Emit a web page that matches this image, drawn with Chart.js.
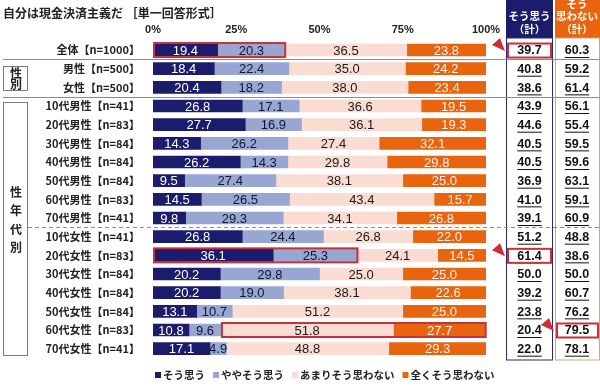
<!DOCTYPE html>
<html><head><meta charset="utf-8">
<script src="https://cdn.jsdelivr.net/npm/chart.js@4.4.1/dist/chart.umd.min.js"></script>
<style>html,body{margin:0;padding:0;background:#fff;overflow:hidden}#wrap{width:600px;height:391px;position:relative}</style>
</head><body><div id="wrap"><canvas id="c" width="600" height="391"></canvas></div>
<script>
const chartTitle = '自分は現金決済主義だ ［単一回答形式］';
const categories = ['全体【n=1000】','男性【n=500】','女性【n=500】',
  '10代男性【n=41】','20代男性【n=83】','30代男性【n=84】','40代男性【n=84】','50代男性【n=84】','60代男性【n=83】','70代男性【n=41】',
  '10代女性【n=41】','20代女性【n=83】','30代女性【n=84】','40代女性【n=84】','50代女性【n=84】','60代女性【n=83】','70代女性【n=41】'];
const seriesNames = ['そう思う','ややそう思う','あまりそう思わない','全くそう思わない'];
const agree     = [19.4,18.4,20.4,26.8,27.7,14.3,26.2, 9.5,14.5, 9.8,26.8,36.1,20.2,20.2,13.1,10.8,17.1];
const somewhat  = [20.3,22.4,18.2,17.1,16.9,26.2,14.3,27.4,26.5,29.3,24.4,25.3,29.8,19.0,10.7, 9.6, 4.9];
const notMuch   = [36.5,35.0,38.0,36.6,36.1,27.4,29.8,38.1,43.4,34.1,26.8,24.1,25.0,38.1,51.2,51.8,48.8];
const notAtAll  = [23.8,24.2,23.4,19.5,19.3,32.1,29.8,25.0,15.7,26.8,22.0,14.5,25.0,22.6,25.0,27.7,29.3];
const agreeTotal    = [39.7,40.8,38.6,43.9,44.6,40.5,40.5,36.9,41.0,39.1,51.2,61.4,50.0,39.2,23.8,20.4,22.0];
const disagreeTotal = [60.3,59.2,61.4,56.1,55.4,59.5,59.6,63.1,59.1,60.9,48.8,38.6,50.0,60.7,76.2,79.5,78.1];
const xTicks = [0,25,50,75,100];
const totalHeaders = [['そう思う','（計）'],['そう','思わない','（計）']];
const groupLabels = [['性','別'],['性','年','代','別']];
// highlighted cells: category, segments (bar) / column (totals)
const barHighlights = [{cat:'全体【n=1000】',segs:[0,1]},{cat:'20代女性【n=83】',segs:[0,1]},{cat:'60代女性【n=83】',segs:[2,3]}];
const colHighlights = [{cat:'全体【n=1000】',col:0},{cat:'20代女性【n=83】',col:0},{cat:'60代女性【n=83】',col:1}];

const COLORS = ['#1c1c6c','#97a7d1','#fadcd3','#e8640f'];
const LABEL_COLORS = ['#ffffff','#14143a','#1a1a1a','#fff4ee'];
const RED = '#cc2f37';
const JP = '"Noto Sans CJK JP", "Noto Sans", sans-serif';
const LAT = '"Liberation Sans", Arial, sans-serif';

const series = [agree, somewhat, notMuch, notAtAll];

const deco = {
  id:'deco',
  beforeDraw(chart){
    const {ctx} = chart;
    ctx.save();
    ctx.fillStyle='#fff'; ctx.fillRect(0,0,chart.width,chart.height);
    ctx.restore();
  },
  afterDatasetsDraw(chart){
    const {ctx, chartArea, scales:{x,y}} = chart;
    ctx.save();
    // data labels
    chart.data.datasets.forEach((ds,di)=>{
      const meta = chart.getDatasetMeta(di);
      meta.data.forEach((bar,i)=>{
        const v = ds.data[i];
        ctx.fillStyle = LABEL_COLORS[di];
        ctx.font = '13px '+LAT;
        ctx.textAlign='center'; ctx.textBaseline='middle';
        ctx.fillText(v.toFixed(1),(bar.x+bar.base)/2,bar.y+1);
      });
    });
    // bar highlights
    ctx.strokeStyle=RED; ctx.lineWidth=2;
    barHighlights.forEach(h=>{
      const i = categories.indexOf(h.cat);
      const b0 = chart.getDatasetMeta(h.segs[0]).data[i];
      const b1 = chart.getDatasetMeta(h.segs[h.segs.length-1]).data[i];
      const x0 = Math.min(b0.base,b0.x), x1 = Math.max(b1.base,b1.x);
      const hh = b0.height/2+1;
      ctx.strokeRect(x0+1,b0.y-hh,x1-x0-1,hh*2);
    });
    // title
    ctx.fillStyle='#222'; ctx.textAlign='left'; ctx.textBaseline='middle';
    ctx.font='bold 12px '+JP;
    ctx.fillText(chartTitle,3,13);
    // total columns
    const cols = [{l:506,r:553,cx:529.5,fill:'#1c1c6c',border:'#2a2a72'},{l:555,r:600,cx:577,fill:'#e8640f',border:'#d9a27e'}];
    const colBottom = chartArea.bottom+2;
    cols.forEach((c,ci)=>{
      ctx.fillStyle=c.fill; ctx.fillRect(c.l,0,c.r-c.l,38);
      ctx.strokeStyle=c.border; ctx.lineWidth=1;
      ctx.strokeRect(c.l+0.5,38,c.r-c.l-1,colBottom-38);
      ctx.fillStyle='#fff'; ctx.textAlign='center'; ctx.textBaseline='middle';
      ctx.font='bold 10.5px '+JP;
      const lines = totalHeaders[ci];
      const ys = lines.length===2?[16,29]:[4.5,16.5,29.5];
      lines.forEach((t,k)=>ctx.fillText(t,c.cx,ys[k]));
    });
    // separators
    const mid = (a,b)=> (y.getPixelForValue(a)+y.getPixelForValue(b))/2;
    ctx.strokeStyle='#8c8c8c'; ctx.lineWidth=1;
    [mid(0,1),mid(2,3)].forEach(yy=>{
      ctx.beginPath(); ctx.moveTo(3,Math.round(yy)+0.5); ctx.lineTo(600,Math.round(yy)+0.5); ctx.stroke();
    });
    ctx.setLineDash([4,3]);
    const dy = Math.round(mid(9,10))+0.5;
    ctx.beginPath(); ctx.moveTo(28,dy); ctx.lineTo(600,dy); ctx.stroke();
    ctx.setLineDash([]);
    // total values
    ctx.font='bold 12.5px '+LAT; ctx.fillStyle='#111'; ctx.textBaseline='middle';
    [agreeTotal,disagreeTotal].forEach((arr,ci)=>{
      arr.forEach((v,i)=>{
        const yy = y.getPixelForValue(i);
        const t = v.toFixed(1);
        ctx.fillText(t,cols[ci].cx,yy+1);
        const w = ctx.measureText(t).width;
        ctx.fillRect(cols[ci].cx-w/2,yy+7,w,1);
      });
    });
    // column highlights + pointers
    ctx.strokeStyle=RED; ctx.lineWidth=2; ctx.fillStyle=RED;
    colHighlights.forEach(h=>{
      const i = categories.indexOf(h.cat);
      const yy = y.getPixelForValue(i);
      const c = cols[h.col];
      const l = c.l+2, r = c.r-2;
      ctx.strokeRect(l,yy-6.5,r-l,14);
      ctx.beginPath();
      ctx.moveTo(l-16,yy-5); ctx.lineTo(l-8,yy-12); ctx.lineTo(l-3,yy+1); ctx.closePath(); ctx.fill();
    });
    // group boxes
    ctx.strokeStyle='#7a7a7a'; ctx.lineWidth=1;
    const g1t = mid(0,1)+7, g1b = mid(2,3)-6;
    ctx.strokeRect(3.5,Math.round(g1t)+0.5,24,Math.round(g1b-g1t));
    const g2t = mid(2,3)+5, g2b = chartArea.bottom-3;
    ctx.strokeRect(3.5,Math.round(g2t)+0.5,24,Math.round(g2b-g2t));
    ctx.fillStyle='#222'; ctx.font='bold 12px '+JP; ctx.textAlign='center';
    const g1c=(g1t+g1b)/2;
    groupLabels[0].forEach((t,k)=>ctx.fillText(t,16,g1c-5.5+k*11));
    groupLabels[1].forEach((t,k)=>ctx.fillText(t,16,192+k*18.5));
    // legend
    ctx.font='bold 10.5px '+JP; ctx.textAlign='left'; ctx.textBaseline='middle';
    let lx = 155; const ly = 375;
    seriesNames.forEach((n,k)=>{
      ctx.fillStyle=COLORS[k]; ctx.fillRect(lx,ly-3,6,6);
      lx += 8;
      ctx.fillStyle='#222'; ctx.fillText(n,lx,ly);
      lx += ctx.measureText(n).width + 8;
    });
    ctx.restore();
  }
};

new Chart(document.getElementById('c'),{
  type:'bar',
  data:{labels:categories,datasets:series.map((d,i)=>({label:seriesNames[i],data:d,backgroundColor:COLORS[i],borderWidth:0,barThickness:12}))},
  options:{
    indexAxis:'y',responsive:false,animation:false,devicePixelRatio:1,
    layout:{padding:{left:0,right:114,top:0,bottom:33}},
    scales:{
      x:{type:'linear',position:'top',stacked:true,min:0,max:100,
        afterBuildTicks:s=>{s.ticks=xTicks.map(v=>({value:v}));},
        afterFit:s=>{s.height=40.7;},
        grid:{display:false,drawTicks:false},border:{display:false},
        ticks:{padding:4,color:'#222',font:{family:LAT,weight:'bold',size:11},callback:v=>v+'%'}},
      y:{type:'category',stacked:true,
        afterFit:s=>{s.width=153;},
        grid:{display:false,drawTicks:false},border:{display:false},
        ticks:{padding:13,color:'#222',font:{family:JP,weight:'bold',size:11}}}
    },
    plugins:{
      legend:{display:false},
      tooltip:{enabled:false},title:{display:false}
    }
  },
  plugins:[deco]
});
</script></body></html>
